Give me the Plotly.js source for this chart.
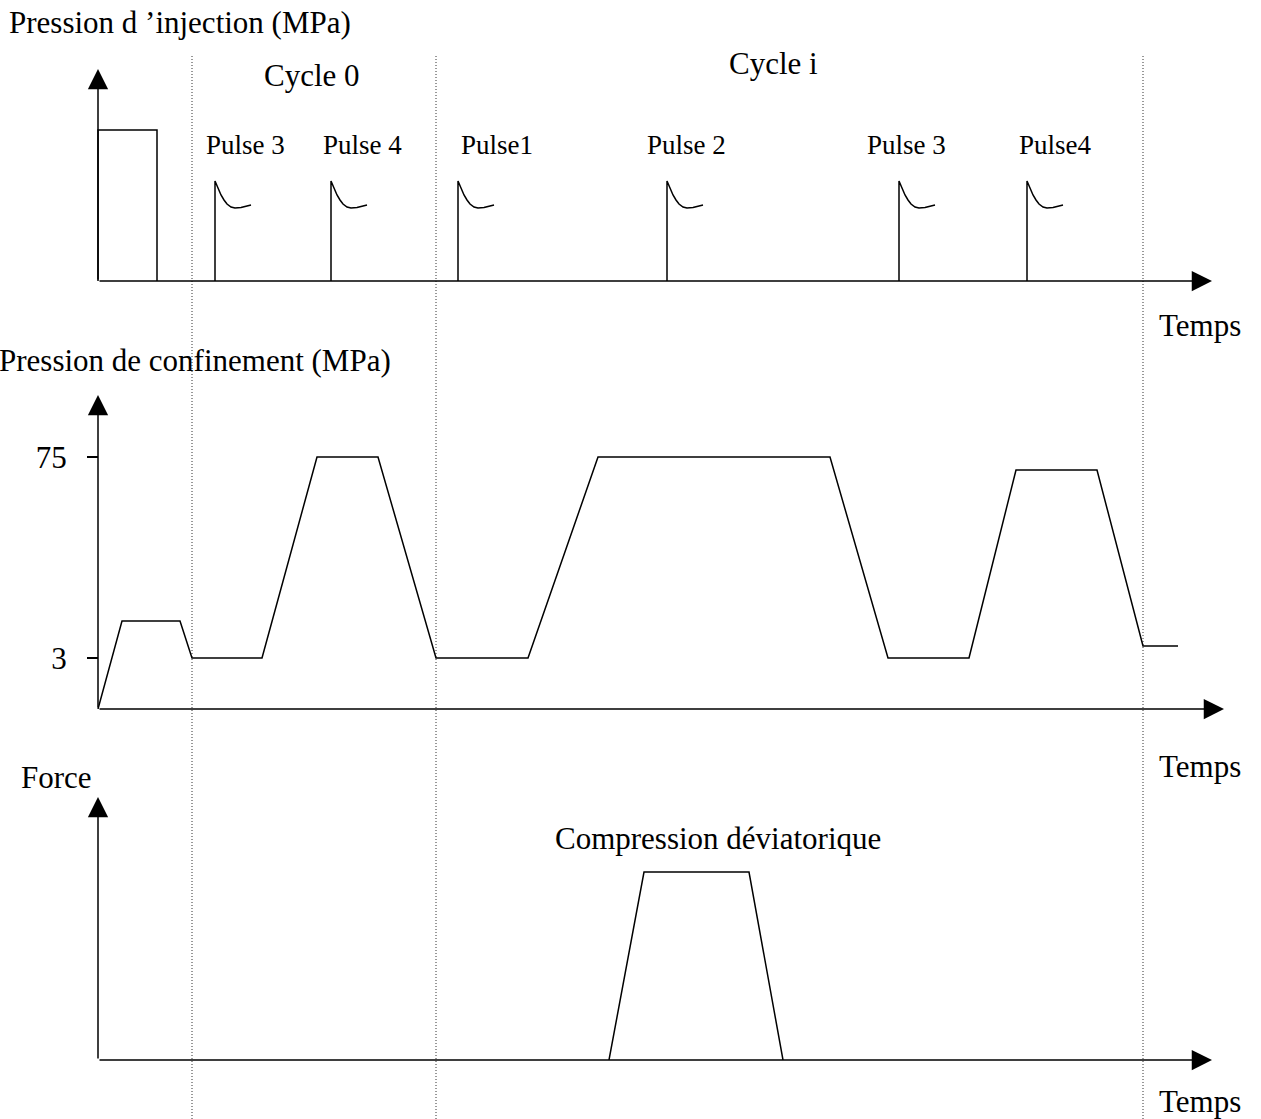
<!DOCTYPE html>
<html>
<head>
<meta charset="utf-8">
<script src="https://cdn.plot.ly/plotly-3.0.1.min.js"></script>
<style>body{margin:0;background:#fff}</style>
</head>
<body>
<div id="graphics" style="width:1261px;height:1119px"></div>
<script>
// time axis is schematic, levels are heights above each panel's baseline

// injection pressure (top panel)
var blockTime = [98, 98, 157, 157],
    blockLevel = [0, 151, 151, 0];
var pulseTimes = [215, 331, 458, 667, 899, 1027],
    pulseNames = ['Pulse 3', 'Pulse 4', 'Pulse1', 'Pulse 2', 'Pulse 3', 'Pulse4'];
var pulseDt = [0, 0, 3, 6, 9, 12, 16, 20, 26, 32, 36],
    pulseLevel = [0, 100, 93, 86, 81, 77, 74, 73, 73.5, 75, 76];

// confining pressure (middle panel)
var confTime = [98, 122, 180, 192, 262, 317, 378, 436, 528, 598, 830, 888, 969, 1016, 1097, 1143, 1178],
    confLevel = [0, 88, 88, 51, 51, 252, 252, 51, 51, 252, 252, 51, 51, 239, 239, 63, 63];
var confTickLevel = [51, 252],
    confTickText = ['3', '75'];

// deviatoric force (bottom panel)
var forceTime = [609, 644, 749, 783],
    forceLevel = [0, 188, 188, 0];

// cycle boundaries
var cycleBounds = [192, 436, 1143];

var W = 1261, H = 1119;
function py(p) { return 1 - p / H; }

var serif = 'Liberation Serif, Times New Roman, serif';
var black = '#000';

var px = [], pyv = [];
pulseTimes.forEach(function(t) {
  for (var i = 0; i < pulseDt.length; i++) {
    px.push(t + pulseDt[i]);
    pyv.push(pulseLevel[i]);
  }
  px.push(null);
  pyv.push(null);
});

var lineStyle = {color: black, width: 1.5};
var traces = [
  {x: blockTime, y: blockLevel, yaxis: 'y', mode: 'lines', line: lineStyle, hoverinfo: 'skip'},
  {x: px, y: pyv, yaxis: 'y', mode: 'lines', line: lineStyle, hoverinfo: 'skip', connectgaps: false},
  {x: confTime, y: confLevel, yaxis: 'y2', mode: 'lines', line: lineStyle, hoverinfo: 'skip'},
  {x: forceTime, y: forceLevel, yaxis: 'y3', mode: 'lines', line: lineStyle, hoverinfo: 'skip'}
];

function axisArrow(yref, x, y, ax, ay) {
  return {
    xref: 'x', yref: yref, axref: 'x', ayref: yref,
    x: x, y: y, ax: ax, ay: ay, text: '',
    showarrow: true, arrowhead: 2, arrowsize: 2.7, arrowwidth: 1.5,
    arrowcolor: black, standoff: 0
  };
}

// labels placed in page pixels
function label(text, xpx, ypx, size, anchor) {
  return {
    xref: 'paper', yref: 'paper', x: xpx / W, y: py(ypx), text: text,
    showarrow: false, xanchor: anchor || 'center', yanchor: 'middle',
    font: {family: serif, size: size || 31, color: black}
  };
}

var pulseLabelX = [245, 362, 497, 687, 906, 1055];

var annotations = [
  axisArrow('y', 98, 212, 98, 0),
  axisArrow('y', 1212, 0, 98, 0),
  axisArrow('y2', 98, 314, 98, 0),
  axisArrow('y2', 1224, 0, 98, 0),
  axisArrow('y3', 98, 263, 98, 0),
  axisArrow('y3', 1212, 0, 98, 0),
  label('Pression d \u2019injection (MPa)', 7, 22, 31, 'left'),
  label('Cycle 0', 312, 75),
  label('Cycle i', 773, 63),
  label('Temps', 1200, 325),
  label('Pression de confinement (MPa)', -3, 361, 31, 'left'),
  label('Temps', 1200, 766),
  label('Force', 56, 777),
  label('Compression d\u00e9viatorique', 718, 838),
  label('Temps', 1200, 1101)
];
pulseNames.forEach(function(n, i) {
  annotations.push(label(n, pulseLabelX[i], 145, 27));
});

var shapes = cycleBounds.map(function(t) {
  return {
    type: 'line', xref: 'x', yref: 'paper', x0: t, x1: t, y0: 0, y1: py(55),
    line: {color: '#333', width: 1, dash: '1px,2px'}, layer: 'below'
  };
});

var hidden = {visible: false, fixedrange: true, autorange: false};

var layout = {
  width: W,
  height: H,
  margin: {l: 0, r: 0, t: 0, b: 0, pad: 0},
  paper_bgcolor: '#fff',
  plot_bgcolor: '#fff',
  showlegend: false,
  xaxis: Object.assign({range: [0, W], domain: [0, 1]}, hidden),
  yaxis: Object.assign({range: [0, 240], domain: [py(281), py(41)]}, hidden),
  yaxis2: {
    range: [0, 320], domain: [py(709), py(389)], autorange: false,
    anchor: 'free', position: 98 / W,
    showline: false, showgrid: false, zeroline: false,
    ticks: 'outside', ticklen: 11, tickwidth: 1.5, tickcolor: black,
    tickvals: confTickLevel, ticktext: confTickText,
    ticklabelstandoff: 14,
    tickfont: {family: serif, size: 31, color: black}
  },
  yaxis3: Object.assign({range: [0, 270], domain: [py(1060), py(790)]}, hidden),
  annotations: annotations,
  shapes: shapes
};

Plotly.newPlot('graphics', traces, layout, {staticPlot: true});
</script>
</body>
</html>
